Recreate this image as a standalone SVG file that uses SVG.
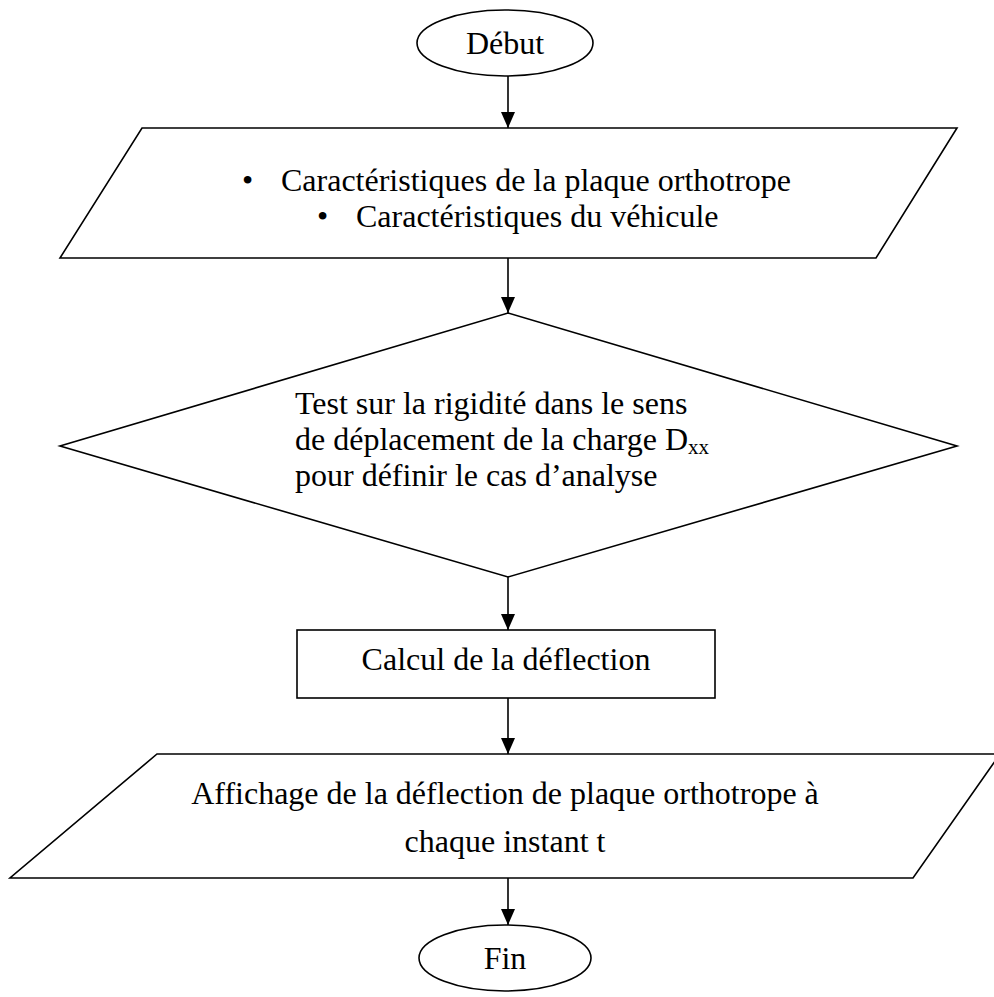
<svg xmlns="http://www.w3.org/2000/svg" width="994" height="997" viewBox="0 0 994 997">
<style>
.s{fill:#fff;stroke:#000;stroke-width:1.6}
.t{font-family:"Liberation Serif","Times New Roman",serif;font-size:32px;fill:#000}
.c{stroke:#000;stroke-width:1.6;fill:none}
</style>
<defs>
<marker id="ar" markerWidth="16" markerHeight="14" refX="16" refY="7" orient="auto" markerUnits="userSpaceOnUse">
<path d="M0,0 L16,7 L0,14 Z" fill="#000"/>
</marker>
</defs>
<rect width="994" height="997" fill="#fff"/>
<g id="connectors">
<line class="c" x1="508" y1="76" x2="508" y2="128" marker-end="url(#ar)"/>
<line class="c" x1="508" y1="258" x2="508" y2="313" marker-end="url(#ar)"/>
<line class="c" x1="508" y1="577" x2="508" y2="630" marker-end="url(#ar)"/>
<line class="c" x1="508" y1="698" x2="508" y2="754" marker-end="url(#ar)"/>
<line class="c" x1="508" y1="878" x2="508" y2="925" marker-end="url(#ar)"/>
</g>
<g id="debut">
<ellipse class="s" cx="505" cy="43" rx="88" ry="33"/>
<text class="t" x="505" y="54" text-anchor="middle">Début</text>
</g>
<g id="entree">
<polygon class="s" points="142,128 957,128 876,258 60,258"/>
<text class="t" x="242" y="191">•</text>
<text class="t" x="281" y="191">Caractéristiques de la plaque orthotrope</text>
<text class="t" x="317" y="227">•</text>
<text class="t" x="356" y="227">Caractéristiques du véhicule</text>
</g>
<g id="test">
<polygon class="s" points="508,313 957,446 508,577 60,446"/>
<text class="t" x="295" y="414">Test sur la rigidité dans le sens</text>
<text class="t" x="295" y="450">de déplacement de la charge D<tspan font-size="21" dy="4">xx</tspan></text>
<text class="t" x="295" y="486">pour définir le cas d’analyse</text>
</g>
<g id="calcul">
<rect class="s" x="297" y="630" width="418" height="68"/>
<text class="t" x="506" y="670" text-anchor="middle">Calcul de la déflection</text>
</g>
<g id="affichage">
<polygon class="s" points="157,754 1000,754 913,878 10,878"/>
<text class="t" x="505" y="804" text-anchor="middle">Affichage de la déflection de plaque orthotrope à</text>
<text class="t" x="505" y="852" text-anchor="middle">chaque instant t</text>
</g>
<g id="fin">
<ellipse class="s" cx="505" cy="958" rx="86" ry="33"/>
<text class="t" x="505" y="969" text-anchor="middle">Fin</text>
</g>
</svg>
